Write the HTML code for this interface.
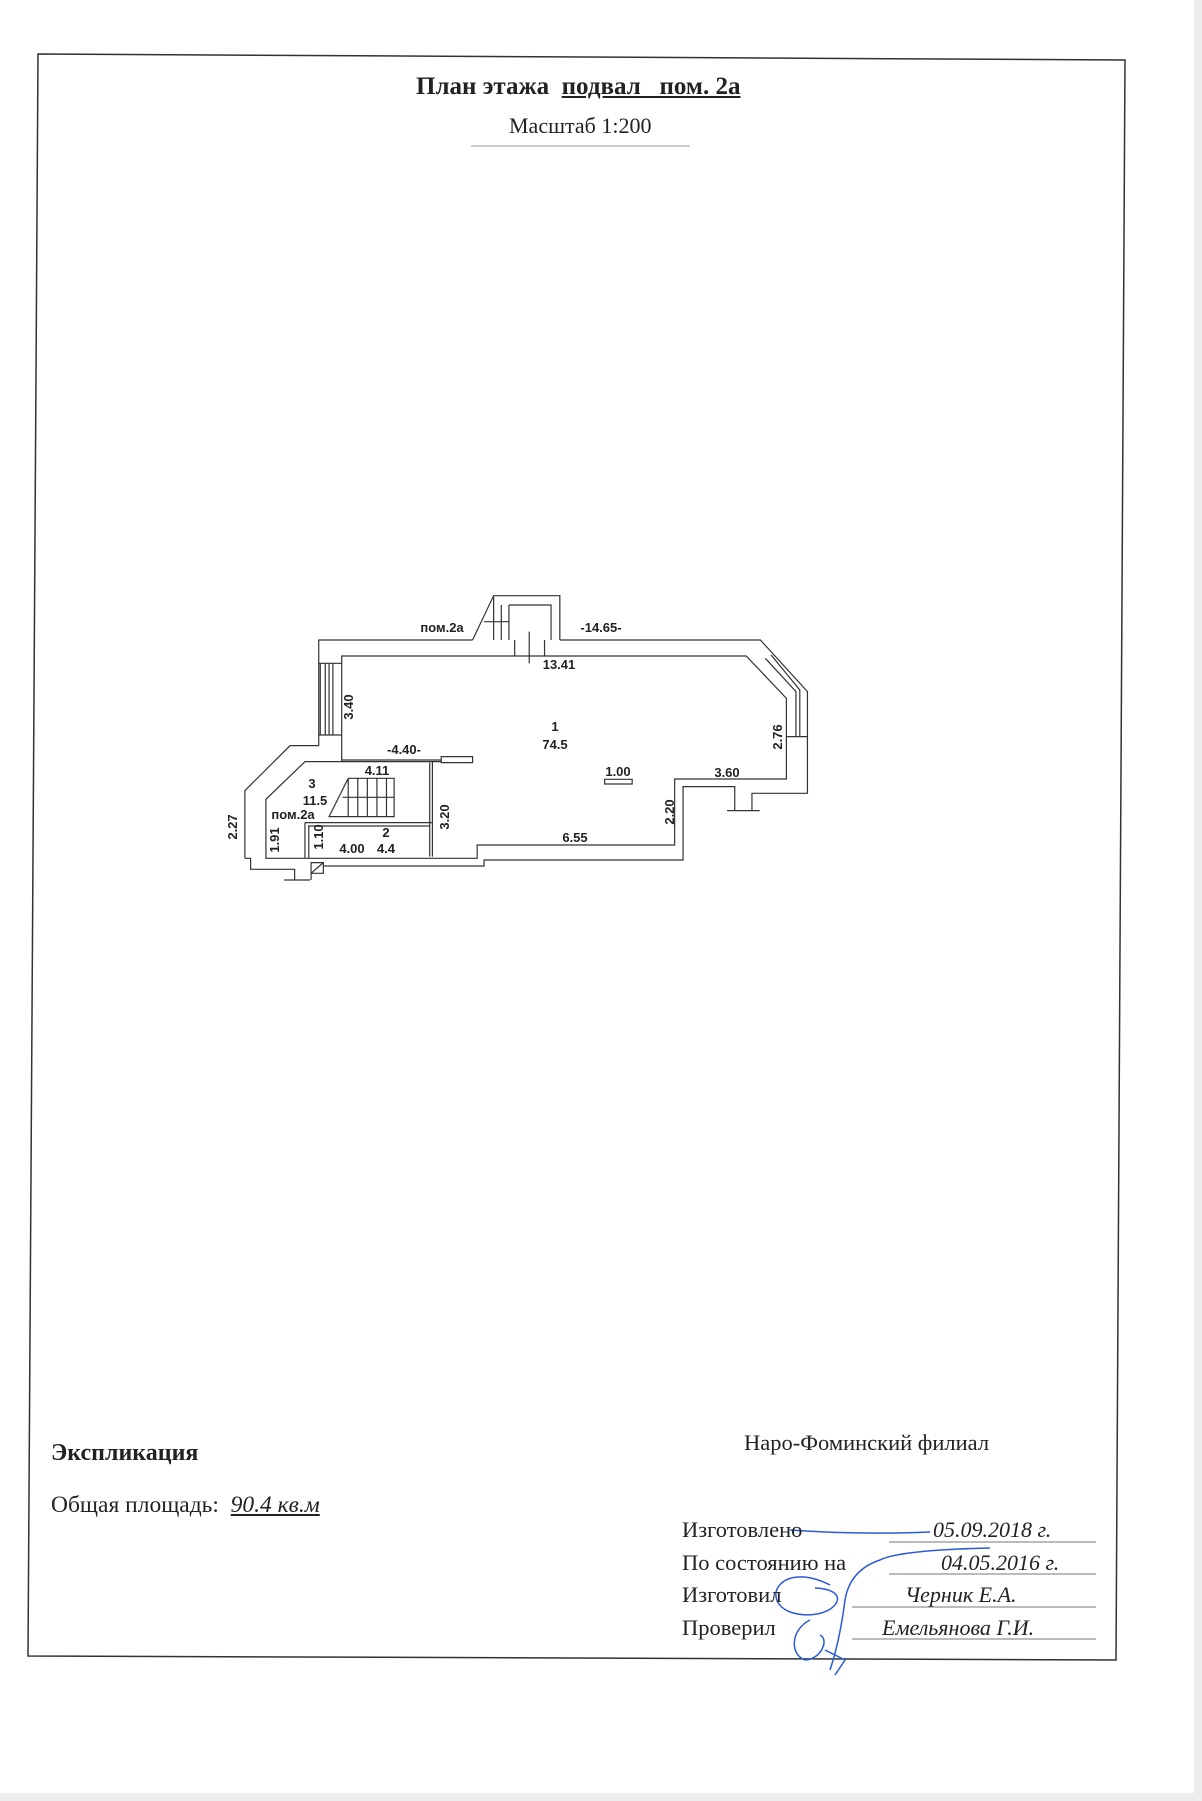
<!DOCTYPE html>
<html><head><meta charset="utf-8"><style>
html,body{margin:0;padding:0;background:#fff}
body{width:1202px;height:1801px;position:relative;overflow:hidden;font-family:"Liberation Serif",serif;color:#222}
.t{position:absolute;white-space:nowrap}
</style></head><body>
<div style="position:absolute;left:0;top:1793px;width:1202px;height:8px;background:#ececef"></div>
<div style="position:absolute;left:1194px;top:0;width:8px;height:1801px;background:#ececef"></div>
<svg width="1202" height="1801" style="position:absolute;left:0;top:0">
<polygon points="38,54 1125,60 1116,1660 28,1656" fill="none" stroke="#333" stroke-width="1.5"/>
<line x1="471" y1="146" x2="690" y2="146" stroke="#999" stroke-width="1"/>
<line x1="889" y1="1542" x2="1096" y2="1542" stroke="#777"/>
<line x1="889" y1="1574" x2="1096" y2="1574" stroke="#777"/>
<line x1="852" y1="1607" x2="1096" y2="1607" stroke="#777"/>
<line x1="852" y1="1639" x2="1096" y2="1639" stroke="#777"/>
<g transform="translate(220,580) scale(0.3827,0.3333)" fill="none" stroke="#333" stroke-width="1.2">
<path vector-effect="non-scaling-stroke" d="M258,497 L258,180 L660,180 M888,180 L1412,180 L1535,335 L1535,640 L1390,640 L1390,690 M1410,692 L1325,692 M1345,692 L1345,620 L1210,620 L1210,840 L690,840 L690,858 L270,858 M238,848 L238,880 L270,880 L270,848 Z M238,880 L270,848 M65,835 L65,632 L183,497 L258,497 M65,835 L80,835 L80,868 L195,868 L195,900 M168,900 L235,900 M238,880 L238,900"/>
<path vector-effect="non-scaling-stroke" d="M318,228 L1375,228 L1480,355 L1480,597 L1188,597 L1188,795 L672,795 L672,835 L120,835 L120,658 L222,545 L318,545 Z"/>
<path vector-effect="non-scaling-stroke" d="M660,180 L715,47 L888,47 L888,180 M755,75 L865,75 L865,180 M715,47 L715,180 M735,75 L735,180 M755,75 L755,180 M690,125 L755,125 M770,180 L770,228 M848,180 L848,228 M808,155 L808,250"/>
<path vector-effect="non-scaling-stroke" d="M262,250 L262,465 M275,250 L275,465 M285,250 L285,465 M295,250 L295,465 M258,250 L318,250 M258,465 L318,465"/>
<path vector-effect="non-scaling-stroke" d="M1425,235 L1505,335 L1505,470 M1440,225 L1515,330 L1515,470 M1480,470 L1535,470"/>
<path vector-effect="non-scaling-stroke" d="M318,545 L578,545 M318,540 L578,540 M578,530 L660,530 L660,548 L578,548 Z M555,545 L555,830 M548,548 L548,830 M222,728 L555,728 M230,738 L548,738 M222,728 L222,835 M232,738 L232,835"/>
<path vector-effect="non-scaling-stroke" d="M285,710 L335,595 L455,595 L455,710 Z M335,595 L335,710 M360,595 L360,710 M385,595 L385,710 M410,595 L410,710 M435,595 L435,710 M320,652 L455,652 M1005,598 L1077,598 L1077,612 L1005,612 Z"/>
</g>
<path d="M790,1530 Q860,1535 930,1532 M880,1560 Q850,1570 845,1600 Q840,1640 830,1670 M880,1560 Q900,1550 990,1548 M830,1585 C780,1560 760,1600 790,1612 C830,1625 860,1590 815,1588 M810,1620 C790,1630 790,1655 805,1660 C820,1660 830,1640 820,1635 M825,1650 L845,1660 L835,1675" fill="none" stroke="#2a5bd7" stroke-width="1.5"/>
<g font-family="Liberation Sans, sans-serif" font-size="13" font-weight="bold" fill="#222" text-anchor="middle">
<text x="442" y="632">пом.2а</text>
<text x="601" y="632">-14.65-</text>
<text x="559" y="669">13.41</text>
<text x="555" y="731">1</text>
<text x="555" y="749">74.5</text>
<text x="404" y="754">-4.40-</text>
<text x="618" y="776">1.00</text>
<text x="727" y="777">3.60</text>
<text x="377" y="775">4.11</text>
<text x="312" y="788">3</text>
<text x="315" y="805">11.5</text>
<text x="293" y="819">пом.2а</text>
<text x="352" y="853">4.00</text>
<text x="386" y="837">2</text>
<text x="386" y="853">4.4</text>
<text x="575" y="842">6.55</text>
<text transform="translate(353,707) rotate(-90)">3.40</text>
<text transform="translate(782,737) rotate(-90)">2.76</text>
<text transform="translate(449,817) rotate(-90)">3.20</text>
<text transform="translate(674,812) rotate(-90)">2.20</text>
<text transform="translate(237,827) rotate(-90)">2.27</text>
<text transform="translate(279,840) rotate(-90)">1.91</text>
<text transform="translate(323,837) rotate(-90)">1.10</text>
</g>
</svg>
<div class="t" style="left:416px;top:73px;font-size:25px;font-weight:bold">План этажа&nbsp; <span style="text-decoration:underline">подвал&nbsp;&nbsp; пом. 2а</span></div>
<div class="t" style="left:509px;top:113px;font-size:22px">Масштаб 1:200</div>
<div class="t" style="left:51px;top:1440px;font-size:24px;font-weight:bold">Экспликация</div>
<div class="t" style="left:51px;top:1492px;font-size:23.5px">Общая площадь:&nbsp; <i style="text-decoration:underline">90.4 кв.м</i></div>
<div class="t" style="left:744px;top:1430px;font-size:22.5px">Наро-Фоминский филиал</div>
<div class="t" style="left:682px;top:1517px;font-size:22.5px">Изготовлено</div>
<div class="t" style="left:682px;top:1550px;font-size:22.5px">По состоянию на</div>
<div class="t" style="left:682px;top:1582px;font-size:22.5px">Изготовил</div>
<div class="t" style="left:682px;top:1615px;font-size:22.5px">Проверил</div>
<div class="t" style="left:933px;top:1517px;font-size:22px;font-style:italic">05.09.2018 г.</div>
<div class="t" style="left:941px;top:1550px;font-size:22px;font-style:italic">04.05.2016 г.</div>
<div class="t" style="left:905px;top:1582px;font-size:22px;font-style:italic">Черник Е.А.</div>
<div class="t" style="left:882px;top:1615px;font-size:22px;font-style:italic">Емельянова Г.И.</div>
</body></html>
